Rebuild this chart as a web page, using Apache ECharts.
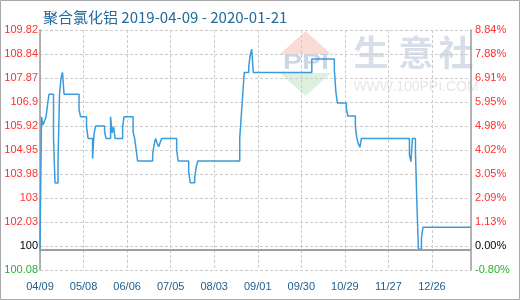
<!DOCTYPE html>
<html><head><meta charset="utf-8">
<script src="https://cdn.jsdelivr.net/npm/echarts@6.0.0/dist/echarts.min.js"></script>
<style>html,body{margin:0;padding:0;background:#fff}#c{width:520px;height:300px}</style>
</head><body><div id="c"></div><script>
const titleText = '聚合氯化铝 2019-04-09 - 2020-01-21';
const startDate = '2019-04-09';
const dayCount = 288;
// change points of the price (value holds until the next point)
const changeDates = ['2019-04-09','2019-04-10','2019-04-11','2019-04-12','2019-04-13','2019-04-14','2019-04-15','2019-04-18','2019-04-19','2019-04-21','2019-04-22','2019-04-23','2019-04-24','2019-04-25','2019-05-05','2019-05-06','2019-05-10','2019-05-11','2019-05-14','2019-05-15','2019-05-16','2019-05-22','2019-05-23','2019-05-26','2019-05-27','2019-05-28','2019-05-29','2019-06-03','2019-06-04','2019-06-10','2019-06-11','2019-06-12','2019-06-13','2019-06-23','2019-06-24','2019-06-25','2019-06-26','2019-06-27','2019-06-28','2019-06-29','2019-07-09','2019-07-10','2019-07-17','2019-07-18','2019-07-21','2019-07-22','2019-07-23','2019-08-20','2019-08-21','2019-08-22','2019-08-23','2019-08-26','2019-08-27','2019-08-28','2019-08-29','2019-10-07','2019-10-22','2019-10-23','2019-10-24','2019-10-30','2019-10-31','2019-11-05','2019-11-06','2019-11-07','2019-11-08','2019-11-09','2019-12-11','2019-12-12','2019-12-13','2019-12-15','2019-12-16','2019-12-17','2019-12-19','2019-12-20','2020-01-21'];
const changeValues = [100.92,106.29,105.96,106.13,106.29,106.78,107.21,105.40,103.61,104.54,107.21,107.87,108.10,107.21,106.60,106.30,105.90,105.42,104.60,105.60,105.92,105.69,105.42,106.30,105.64,105.90,105.42,105.90,106.30,105.69,105.42,104.98,104.50,104.75,105.18,105.42,105.22,105.08,105.25,105.42,104.95,104.50,104.07,103.62,103.83,104.25,104.50,105.42,106.33,107.21,108.10,108.33,108.81,109.04,108.10,108.64,108.20,107.32,106.86,106.62,106.33,105.90,105.42,105.20,105.06,105.42,104.75,104.48,105.42,104.90,102.72,100.92,101.40,101.81,101.81];
const baseValue = 100.92;
const leftLabels = ['100.08','100','102.03','103','103.98','104.95','105.92','106.9','107.87','108.84','109.82'];
const rightLabels = ['-0.80%','0.00%','1.13%','2.09%','3.05%','4.02%','4.98%','5.95%','6.91%','7.88%','8.84%'];
const leftMin = 100.08, leftMax = 109.82, leftStep = 0.974;
const rightMin = -0.80, rightMax = 8.84, rightStep = 0.964;

const categories = [];
{
  const d0 = new Date(startDate + 'T00:00:00Z');
  for (let i = 0; i < dayCount; i++) {
    const d = new Date(d0.getTime() + i * 86400000);
    categories.push(d.toISOString().slice(0, 10));
  }
}
const seriesData = changeDates.map((d, i) => [d, changeValues[i]]);

function labelColor(i, n) {
  if (i === 0) return '#2fae2f';
  if (i === 1) return '#000000';
  return '#ff3030';
}
const leftIdx = v => Math.round((+v - leftMin) / leftStep);
const rightIdx = v => Math.round((+v - rightMin) / rightStep);

const chart = echarts.init(document.getElementById('c'), null, {renderer: 'canvas'});
chart.setOption({
  animation: false,
  backgroundColor: '#ffffff',
  title: {
    text: titleText, left: 38, top: 5,
    textStyle: {fontSize: 15, fontWeight: 'normal', color: '#236b9b', fontFamily: 'Noto Sans CJK SC'}
  },
  grid: {left: 40, right: 49, top: 30, bottom: 30, containLabel: false},
  graphic: [
    {type: 'rect', silent: true, z: 100, shape: {x: 0.5, y: 0.5, width: 519, height: 299}, style: {fill: 'none', stroke: '#a8a8a8', lineWidth: 1}},
    {type: 'polygon', silent: true, z: -10, shape: {points: [[280, 54], [331, 54], [305.5, 31]]}, style: {fill: '#fadbd7'}},
    {type: 'polygon', silent: true, z: -10, shape: {points: [[280, 73], [331, 73], [305.5, 96]]}, style: {fill: '#dcf0de'}},
    {type: 'text', silent: true, z: -9, x: 306, y: 63, scaleX: 1.3, style: {text: 'PPI', align: 'center', verticalAlign: 'middle', font: 'bold 22px "Liberation Sans"', fill: '#ccd6e9'}},
    {type: 'text', silent: true, z: -9, x: 371, y: 53, style: {text: '生', align: 'center', verticalAlign: 'middle', font: 'bold 35px "Noto Sans CJK SC"', fill: '#d7dde9'}},
    {type: 'text', silent: true, z: -9, x: 416, y: 53, style: {text: '意', align: 'center', verticalAlign: 'middle', font: 'bold 35px "Noto Sans CJK SC"', fill: '#d7dde9'}},
    {type: 'text', silent: true, z: -9, x: 456, y: 53, style: {text: '社', align: 'center', verticalAlign: 'middle', font: 'bold 35px "Noto Sans CJK SC"', fill: '#d7dde9'}},
    {type: 'text', silent: true, z: -9, x: 416, y: 87, style: {text: 'WWW.100PPI.COM', align: 'center', verticalAlign: 'middle', font: '14px "Liberation Sans"', fill: '#e6e6e6'}}
  ],
  xAxis: {
    type: 'category', data: categories, boundaryGap: false,
    axisLine: {show: true, lineStyle: {color: '#9a9a9a', width: 1.5}},
    axisTick: {show: false},
    axisLabel: {interval: 28, margin: 11, fontSize: 11, fontFamily: 'Liberation Sans', color: '#1d5d8d',
      formatter: s => s.slice(5).replace('-', '/')},
    splitLine: {show: true, interval: 28, lineStyle: {color: '#cccccc', type: [3, 2], width: 1}}
  },
  yAxis: [
    {
      type: 'value', position: 'left', min: leftMin, max: leftMax, interval: leftStep, scale: true,
      axisLine: {show: true, lineStyle: {color: '#9a9a9a', width: 1.5}},
      axisTick: {show: false},
      axisLabel: {margin: 2, fontSize: 11, fontFamily: 'Liberation Sans',
        formatter: v => leftLabels[leftIdx(v)] ?? '',
        color: v => labelColor(leftIdx(v))},
      splitLine: {show: true, lineStyle: {color: '#cccccc', type: [3, 2], width: 1}}
    },
    {
      type: 'value', position: 'right', min: rightMin, max: rightMax, interval: rightStep, scale: true,
      axisLine: {show: true, lineStyle: {color: '#9a9a9a', width: 1.5}},
      axisTick: {show: false},
      axisLabel: {margin: 4, fontSize: 11, fontFamily: 'Liberation Sans',
        formatter: v => rightLabels[rightIdx(v)] ?? '',
        color: v => labelColor(rightIdx(v))},
      splitLine: {show: false}
    }
  ],
  series: [{
    type: 'line', yAxisIndex: 0, step: 'end', data: seriesData,
    showSymbol: false, symbol: 'none',
    lineStyle: {color: '#3a9bdc', width: 1.5},
    markLine: {
      silent: true, symbol: 'none', label: {show: false},
      lineStyle: {color: '#9a9a9a', type: 'solid', width: 1.5},
      data: [{yAxis: baseValue}]
    }
  }]
});
</script></body></html>
